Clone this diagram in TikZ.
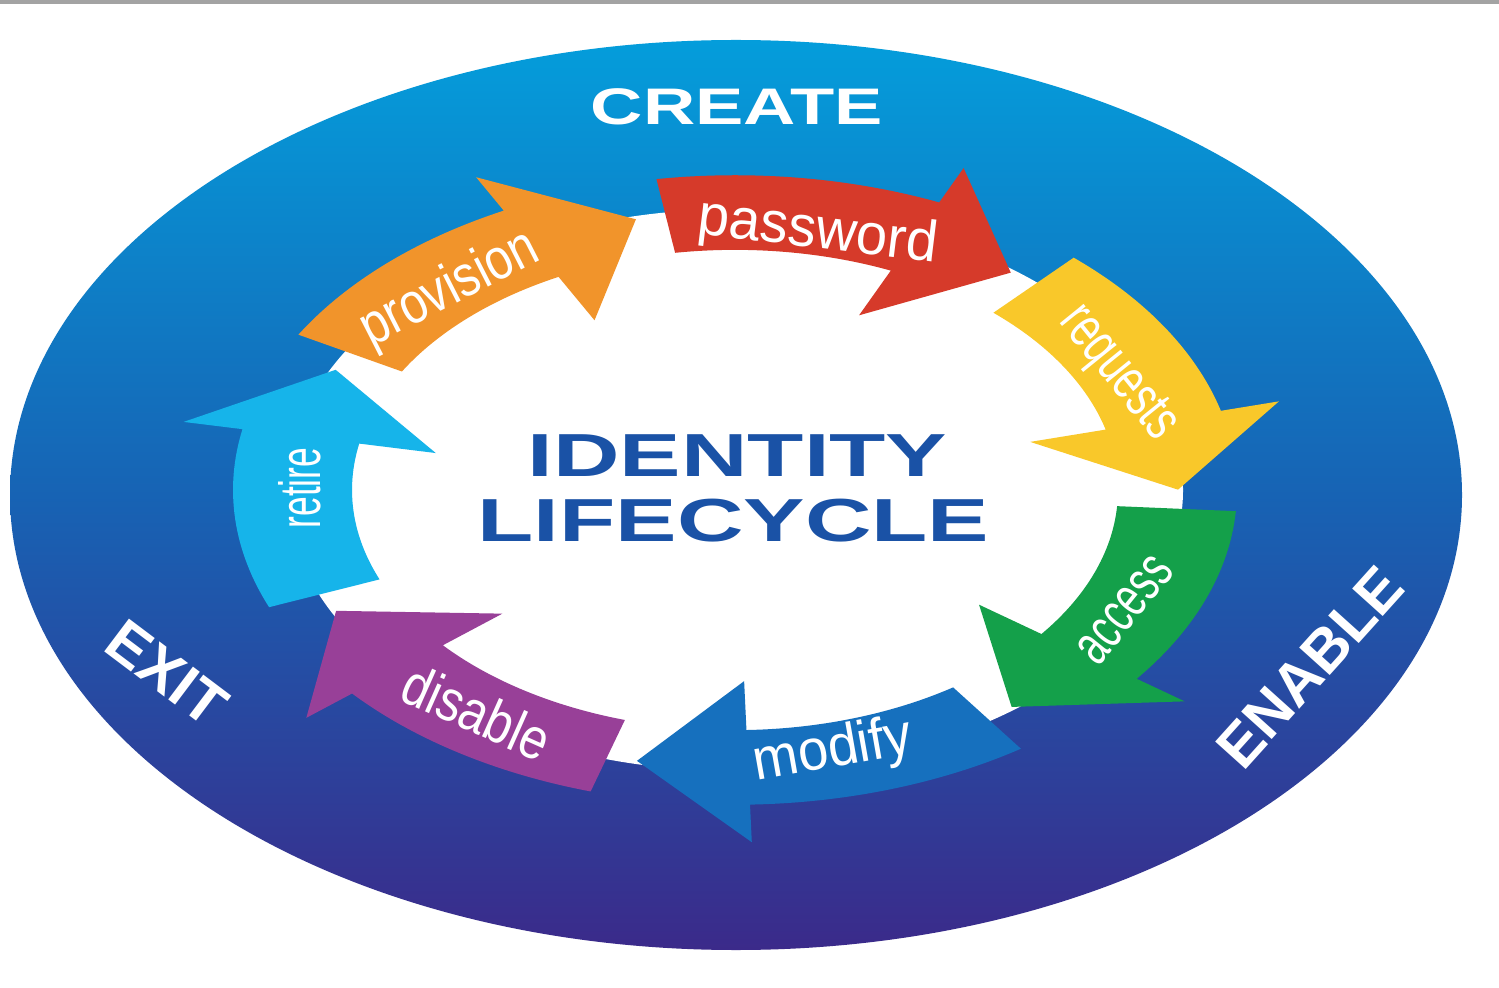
\documentclass[tikz,border=0pt]{standalone}
\usepackage{fontspec}
\setmainfont{Liberation Sans}
\usepackage{graphicx}
\usepackage{xcolor}
\definecolor{ringtop}{RGB}{4,157,219}
\definecolor{ringmid}{RGB}{23,99,180}
\definecolor{ringbottom}{RGB}{59,42,138}
\definecolor{titleblue}{RGB}{26,82,166}
\definecolor{pwred}{RGB}{214,58,42}
\definecolor{reqyellow}{RGB}{249,200,42}
\definecolor{accgreen}{RGB}{20,160,74}
\definecolor{modblue}{RGB}{22,112,190}
\definecolor{dispurple}{RGB}{152,64,152}
\definecolor{retcyan}{RGB}{22,180,234}
\definecolor{provorange}{RGB}{241,148,43}
\definecolor{topline}{gray}{.64}

\tikzset{
  steplabel/.style={text=white, inner sep=0pt, font=\fontsize{16.5}{18}\selectfont},
  phaselabel/.style={text=white, inner sep=0pt, font=\fontsize{17}{20}\selectfont\bfseries},
  titletext/.style={text=titleblue, inner sep=0pt, font=\fontsize{26.2}{30}\selectfont\bfseries}
}

\begin{document}
\begin{tikzpicture}
      \useasboundingbox (0,0) rectangle (14.99,9.87);
      \fill[white] (0,0) rectangle (14.99,9.87);
      \fill[topline] (0,9.83) rectangle (14.99,9.87);
      \shade[top color=ringtop, bottom color=ringbottom, middle color=ringmid] (7.36,4.92) ellipse [x radius=7.26, y radius=4.55];
      \begin{scope}[shift={(7.35,4.97)}, yscale=0.627]
        \fill[white] (0,0) circle [radius=4.48];
        \foreach \a/\c in {99/pwred, 47.571/reqyellow, -3.857/accgreen, -55.286/modblue, -106.714/dispurple, -158.143/retcyan, -209.571/provorange}
          \fill[\c] (\a:5.02) arc [start angle=\a, end angle=\a-33, radius=5.02] -- ({\a-33}:5.62) -- ({\a-47.5}:4.43) -- ({\a-33}:3.05) -- ({\a-33}:3.83) arc [start angle=\a-33, end angle=\a, radius=3.83] -- cycle;
      \end{scope}
      \node [steplabel, rotate=-7] (password) at (8.18,7.54) {\scalebox{0.97}[1]{password}};
      \node [steplabel, rotate=-51] (requests) at (11.17,6.13) {\scalebox{0.70}[1]{requests}};
      \node [steplabel, rotate=51] (access) at (11.25,3.77) {\scalebox{0.68}[1]{access}};
      \node [steplabel, rotate=10] (modify) at (8.33,2.35) {\scalebox{0.94}[1]{modify}};
      \node [steplabel, rotate=-24] (disable) at (4.77,2.75) {\scalebox{0.85}[1]{disable}};
      \node [steplabel, rotate=90] (retire) at (3.00,4.99) {\scalebox{0.61}[1]{retire}};
      \node [steplabel, rotate=27] (provision) at (4.50,6.97) {\scalebox{0.83}[1]{provision}};
      \node [phaselabel, font=\fontsize{20.6}{22}\selectfont\bfseries] (create) at (7.37,8.805) {\scalebox{1}[0.71]{CREATE}};
      \node [phaselabel, rotate=48] (enable) at (13.10,3.20) {ENABLE};
      \node [phaselabel, rotate=-37] (exit) at (1.67,3.14) {EXIT};
      \node [titletext] (identity) at (7.375,5.315) {\scalebox{1}[0.66]{IDENTITY}};
      \node [titletext] (lifecycle) at (7.335,4.66) {\scalebox{1}[0.66]{LIFECYCLE}};
    \end{tikzpicture}
\end{document}
